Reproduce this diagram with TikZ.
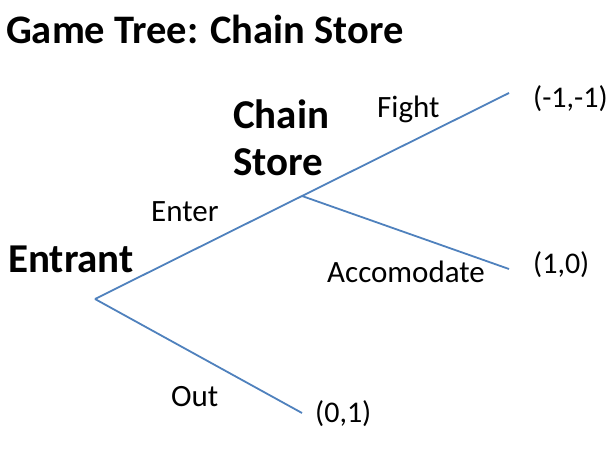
\documentclass[tikz,border=0pt]{standalone}
\usepackage{fontspec}
\setmainfont{Carlito}
\usetikzlibrary{positioning}
\definecolor{edgeblue}{RGB}{79,129,189}
\tikzstyle{branch} = [draw=edgeblue, line width=1.8pt]
\tikzstyle{player} = [font=\bfseries\fontsize{41}{47}\selectfont, inner sep=0pt, anchor=base west]
\tikzstyle{move} = [font=\fontsize{31}{36}\selectfont, inner sep=0pt, anchor=base west]
\tikzstyle{payoff} = [font=\fontsize{30}{36}\selectfont, inner sep=0pt, anchor=base west]

\begin{document}
\begin{tikzpicture}[x=1pt, y=-1pt]
    \useasboundingbox (0,0) rectangle (616,463);

    % Title
    \node (title) [anchor=base west, inner sep=0pt, font=\bfseries\fontsize{40.5}{46}\selectfont] at (6,43) {Game Tree: Chain Store};

    % Decision points and outcomes
    \coordinate (entrant) at (95,299);
    \coordinate (chain) at (302,196);
    \coordinate (fight) at (509,93);
    \coordinate (accomodate) at (509,269);
    \coordinate (out) at (302,413);

    % Players
    \node (entrant_lbl) [player] at (8,272) {Entrant};
    \node (chain_lbl) [player, align=left] at (233,175) {Chain\\Store};

    % Moves
    \node (enter_lbl) [move] at (151,221) {Enter};
    \node (out_lbl) [move] at (171,406) {Out};
    \node (fight_lbl) [move] at (377,117) {Fight};
    \node (acc_lbl) [move] at (327,282) {Accomodate};

    % Payoffs
    \node (fight_pay) [payoff] at (533,107) {(-1,-1)};
    \node (acc_pay) [payoff] at (533,273) {(1,0)};
    \node (out_pay) [payoff] at (315,422) {(0,1)};

    % ==== Branches
    \draw [branch] (entrant) -- (chain);
    \draw [branch] (entrant) -- (out);
    \draw [branch] (chain) -- (fight);
    \draw [branch] (chain) -- (accomodate);

\end{tikzpicture}
\end{document}
